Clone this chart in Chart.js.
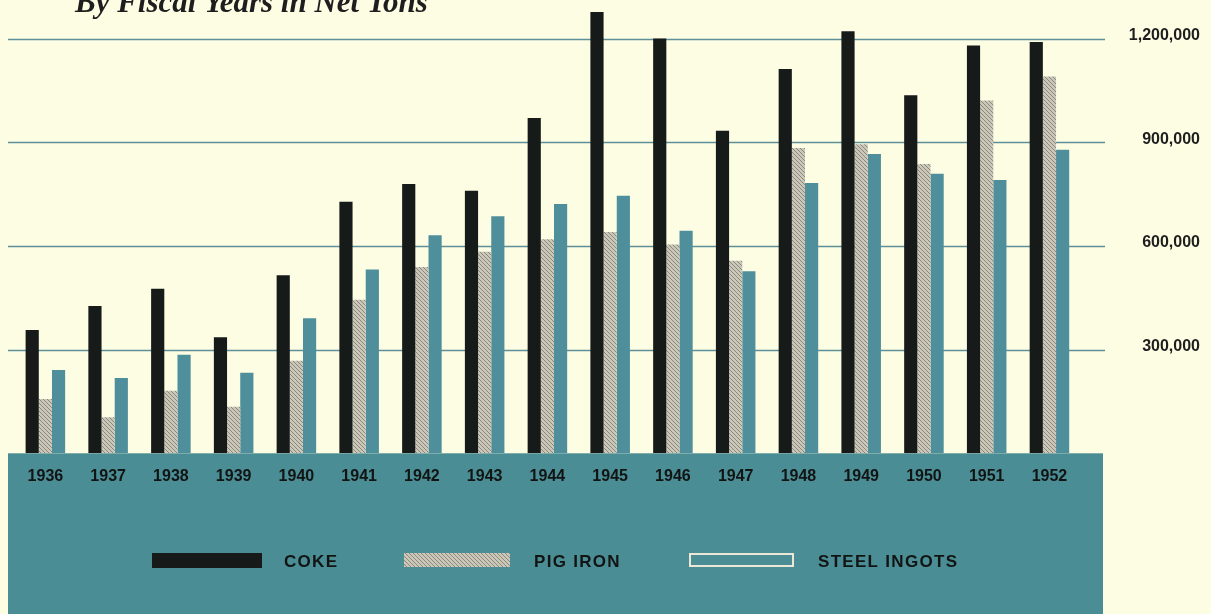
<!DOCTYPE html>
<html>
<head>
<meta charset="utf-8">
<script src="https://cdn.jsdelivr.net/npm/chart.js@4/dist/chart.umd.min.js"></script>
<style>
  html, body { margin: 0; padding: 0; background: #fdfde4; }
  #wrap { position: relative; width: 1211px; height: 614px; overflow: hidden; }
  canvas { display: block; }
</style>
</head>
<body>
<div id="wrap"><canvas id="c" width="1211" height="614"></canvas></div>
<script>
// ---- data (net tons) ----
const years = ['1936','1937','1938','1939','1940','1941','1942','1943','1944','1945','1946','1947','1948','1949','1950','1951','1952'];
const coke  = [357000, 426000, 476000, 336000, 515000, 728000, 779000, 760000, 970000, 1277000, 1200000, 933000, 1112000, 1221000, 1036000, 1180000, 1190000];
const pigIron = [157000, 104000, 181000, 135000, 268000, 444000, 539000, 583000, 619000, 640000, 604000, 557000, 883000, 894000, 837000, 1021000, 1090000];
const steelIngots = [241000, 218000, 285000, 233000, 391000, 532000, 631000, 686000, 721000, 745000, 644000, 527000, 782000, 866000, 809000, 791000, 878000];
const yTicks = [300000, 600000, 900000, 1200000];
const titleText = 'By Fiscal Years in Net Tons';
const seriesNames = ['COKE', 'PIG IRON', 'STEEL INGOTS'];

// ---- styles ----
const BG = '#fdfde4';
const PANEL = '#4a8d94';
const COKE_C = '#161a18';
const STEEL_C = '#4f8f9c';
const GRID_C = '#5f8f98';

function makePigPattern() {
  const c = document.createElement('canvas');
  c.width = 4; c.height = 4;
  const g = c.getContext('2d');
  g.fillStyle = '#cbc8ba';
  g.fillRect(0, 0, 4, 4);
  g.fillStyle = '#8a877d';
  for (let i = 0; i < 4; i++) g.fillRect(i, i, 1, 1);
  return g.createPattern(c, 'repeat');
}
const pigPattern = makePigPattern();

function spacedText(ctx, text, x, y, spacing) {
  let cx = x;
  for (const ch of text) {
    ctx.fillText(ch, cx, y);
    cx += ctx.measureText(ch).width + spacing;
  }
}

const decorPlugin = {
  id: 'decor',
  beforeDraw(chart) {
    const ctx = chart.ctx;
    const y = chart.scales.y;
    const zero = y.getPixelForValue(0);
    ctx.save();
    ctx.fillStyle = BG;
    ctx.fillRect(0, 0, chart.width, chart.height);
    // teal base panel
    ctx.fillStyle = PANEL;
    ctx.fillRect(8, zero, 1103 - 8, chart.height - zero);
    // grid lines
    ctx.strokeStyle = GRID_C;
    ctx.lineWidth = 1.5;
    for (const v of yTicks) {
      const py = Math.round(y.getPixelForValue(v)) + 0.5;
      ctx.beginPath();
      ctx.moveTo(8, py);
      ctx.lineTo(1105, py);
      ctx.stroke();
    }
    ctx.restore();
  },
  afterDraw(chart) {
    const ctx = chart.ctx;
    ctx.save();
    // title (cut by the top edge as in the source)
    ctx.fillStyle = '#1e1e1e';
    ctx.font = 'italic bold 31px "Liberation Serif", "DejaVu Serif", serif';
    ctx.textBaseline = 'alphabetic';
    ctx.textAlign = 'left';
    ctx.fillText(titleText, 75, 12);

    // legend
    const ds = chart.data.datasets;
    const items = [
      { box: [152, 553, 110, 15], tx: 284 },
      { box: [404, 553, 106, 14], tx: 534 },
      { box: [690, 554, 103, 12], tx: 818 }
    ];
    ctx.font = 'bold 17px "Liberation Sans", Arial, sans-serif';
    ctx.textBaseline = 'middle';
    items.forEach((it, i) => {
      const [bx, by, bw, bh] = it.box;
      if (i === 2) {
        ctx.strokeStyle = '#e9e8d6';
        ctx.lineWidth = 2;
        ctx.strokeRect(bx, by, bw, bh);
      } else {
        ctx.fillStyle = ds[i].backgroundColor;
        ctx.fillRect(bx, by, bw, bh);
      }
      ctx.fillStyle = '#121414';
      spacedText(ctx, ds[i].label, it.tx, 562, 1.3);
    });
    ctx.restore();
  }
};

new Chart(document.getElementById('c'), {
  type: 'bar',
  data: {
    labels: years,
    datasets: [
      { label: seriesNames[0], data: coke, backgroundColor: COKE_C },
      { label: seriesNames[1], data: pigIron, backgroundColor: pigPattern },
      { label: seriesNames[2], data: steelIngots, backgroundColor: STEEL_C }
    ]
  },
  options: {
    responsive: false,
    devicePixelRatio: 1,
    animation: false,
    events: [],
    layout: { padding: { left: 14, top: 4, right: 11, bottom: 113.5 } },
    datasets: { bar: { barPercentage: 1.0, categoryPercentage: 0.63, borderWidth: 0 } },
    plugins: { legend: { display: false }, tooltip: { enabled: false }, title: { display: false } },
    scales: {
      x: {
        grid: { display: false, drawTicks: false },
        border: { display: false },
        afterFit(scale) { scale.paddingLeft = 0; scale.paddingRight = 0; },
        ticks: {
          color: '#121414',
          padding: 14,
          font: { family: '"Liberation Sans", Arial, sans-serif', size: 16, weight: 'bold' },
          maxRotation: 0, autoSkip: false
        }
      },
      y: {
        position: 'right',
        min: 0,
        max: 1300000,
        afterBuildTicks(scale) { scale.ticks = yTicks.map(v => ({ value: v })); },
        afterFit(scale) { scale.paddingTop = 0; scale.paddingBottom = 0; },
        grid: { display: false, drawTicks: false },
        border: { display: false },
        ticks: {
          color: '#1e1e1e',
          crossAlign: 'far',
          padding: 24,
          labelOffset: -3,
          font: { family: '"Liberation Sans", Arial, sans-serif', size: 16, weight: 'bold' },
          callback: (v) => Number(v).toLocaleString('en-US')
        }
      }
    }
  },
  plugins: [decorPlugin]
});
</script>
</body>
</html>
